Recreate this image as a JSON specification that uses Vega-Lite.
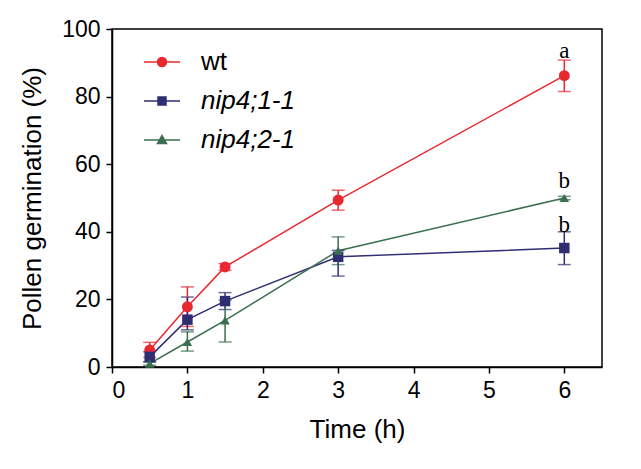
{
  "$schema": "https://vega.github.io/schema/vega-lite/v6.json",
  "width": 490,
  "height": 338,
  "autosize": "none",
  "padding": {"left": 112, "top": 29, "right": 39, "bottom": 102},
  "background": "white",
  "datasets": {
    "series": [
      {"genotype": "wt", "time": 0.5, "mean": 5.0, "lo": 2.8, "hi": 7.3},
      {"genotype": "wt", "time": 1.0, "mean": 17.8, "lo": 12.0, "hi": 23.7},
      {"genotype": "wt", "time": 1.5, "mean": 29.6, "lo": 28.6, "hi": 30.6},
      {"genotype": "wt", "time": 3.0, "mean": 49.4, "lo": 46.4, "hi": 52.3},
      {"genotype": "wt", "time": 6.0, "mean": 86.2, "lo": 81.5, "hi": 90.8},
      {"genotype": "nip4;1-1", "time": 0.5, "mean": 3.0, "lo": 1.5, "hi": 4.5},
      {"genotype": "nip4;1-1", "time": 1.0, "mean": 14.0, "lo": 11.0, "hi": 20.7},
      {"genotype": "nip4;1-1", "time": 1.5, "mean": 19.5, "lo": 17.0, "hi": 22.0},
      {"genotype": "nip4;1-1", "time": 3.0, "mean": 32.6, "lo": 26.9, "hi": 34.5},
      {"genotype": "nip4;1-1", "time": 6.0, "mean": 35.2, "lo": 30.3, "hi": 40.0},
      {"genotype": "nip4;2-1", "time": 0.5, "mean": 1.0, "lo": 0.5, "hi": 1.5},
      {"genotype": "nip4;2-1", "time": 1.0, "mean": 7.4, "lo": 4.7, "hi": 10.4},
      {"genotype": "nip4;2-1", "time": 1.5, "mean": 13.8, "lo": 7.4, "hi": 19.8},
      {"genotype": "nip4;2-1", "time": 3.0, "mean": 34.4, "lo": 30.3, "hi": 38.5},
      {"genotype": "nip4;2-1", "time": 6.0, "mean": 50.0, "lo": 49.5, "hi": 50.5}
    ],
    "letters": [
      {"time": 6, "y": 93.5, "label": "a"},
      {"time": 6, "y": 55.0, "label": "b"},
      {"time": 6, "y": 42.0, "label": "b"}
    ]
  },
  "layer": [
    {
      "data": {"name": "series"},
      "mark": {"type": "line", "strokeWidth": 1.5},
      "encoding": {
        "x": {"field": "time", "type": "quantitative"},
        "y": {"field": "mean", "type": "quantitative"},
        "color": {"field": "genotype", "type": "nominal"}
      }
    },
    {
      "data": {"name": "series"},
      "mark": {"type": "errorbar", "ticks": true, "size": 13, "thickness": 1.5},
      "encoding": {
        "x": {"field": "time", "type": "quantitative"},
        "y": {"field": "lo", "type": "quantitative"},
        "y2": {"field": "hi"},
        "color": {"field": "genotype", "type": "nominal"}
      }
    },
    {
      "data": {"name": "series"},
      "transform": [{"filter": "datum.genotype == 'wt'"}],
      "mark": {"type": "point", "shape": "circle", "filled": true, "opacity": 1, "size": 120},
      "encoding": {
        "x": {"field": "time", "type": "quantitative"},
        "y": {"field": "mean", "type": "quantitative"},
        "color": {"field": "genotype", "type": "nominal"}
      }
    },
    {
      "data": {"name": "series"},
      "transform": [{"filter": "datum.genotype == 'nip4;1-1'"}],
      "mark": {"type": "point", "shape": "square", "filled": true, "opacity": 1, "size": 110},
      "encoding": {
        "x": {"field": "time", "type": "quantitative"},
        "y": {"field": "mean", "type": "quantitative"},
        "color": {"field": "genotype", "type": "nominal"}
      }
    },
    {
      "data": {"name": "series"},
      "transform": [{"filter": "datum.genotype == 'nip4;2-1'"}],
      "mark": {"type": "point", "shape": "triangle-up", "filled": true, "opacity": 1, "size": 90},
      "encoding": {
        "x": {"field": "time", "type": "quantitative"},
        "y": {"field": "mean", "type": "quantitative"},
        "color": {"field": "genotype", "type": "nominal"}
      }
    },
    {
      "data": {"name": "letters"},
      "mark": {"type": "text", "font": "Liberation Serif", "fontSize": 23, "baseline": "middle", "align": "center"},
      "encoding": {
        "x": {"field": "time", "type": "quantitative"},
        "y": {"field": "y", "type": "quantitative"},
        "text": {"field": "label"},
        "color": {"value": "black"}
      }
    }
  ],
  "encoding": {
    "x": {
      "field": "time",
      "type": "quantitative",
      "title": "Time (h)",
      "scale": {"domain": [0, 6.5], "nice": false, "zero": false},
      "axis": {"values": [0, 1, 2, 3, 4, 5, 6]}
    },
    "y": {
      "field": "mean",
      "type": "quantitative",
      "title": "Pollen germination (%)",
      "scale": {"domain": [0, 100], "nice": false},
      "axis": {"values": [0, 20, 40, 60, 80, 100]}
    },
    "color": {
      "field": "genotype",
      "type": "nominal",
      "scale": {"domain": ["wt", "nip4;1-1", "nip4;2-1"], "range": ["#e8282f", "#2f2e73", "#3a7050"]},
      "legend": {
        "title": null,
        "orient": "none",
        "legendX": 37,
        "legendY": 20,
        "padding": 0,
        "labelFontSize": 26,
        "labelFont": "Liberation Sans",
        "labelColor": "black",
        "labelOffset": 26,
        "rowPadding": 13,
        "symbolSize": 100,
        "symbolStrokeWidth": 1.5,
        "encode": {
          "symbols": {
            "enter": {
              "shape": {"signal": "datum.value == 'wt' ? 'M-3.6,0H3.6M0.9,0A0.9,0.9,0,1,1,-0.9,0A0.9,0.9,0,1,1,0.9,0Z' : datum.value == 'nip4;1-1' ? 'M-3.6,0H3.6M-0.8,-0.8H0.8V0.8H-0.8Z' : 'M-3.6,0H3.6M0,-0.9L0.9,0.7H-0.9Z'"}
            },
            "update": {
              "shape": {"signal": "datum.value == 'wt' ? 'M-3.6,0H3.6M0.9,0A0.9,0.9,0,1,1,-0.9,0A0.9,0.9,0,1,1,0.9,0Z' : datum.value == 'nip4;1-1' ? 'M-3.6,0H3.6M-0.8,-0.8H0.8V0.8H-0.8Z' : 'M-3.6,0H3.6M0,-0.9L0.9,0.7H-0.9Z'"},
              "stroke": {"scale": "color", "field": "value"},
              "fill": {"scale": "color", "field": "value"},
              "strokeWidth": {"value": 1.5},
              "size": {"value": 100},
              "opacity": {"value": 1}
            }
          },
          "labels": {
            "update": {
              "fontStyle": {"signal": "datum.value == 'wt' ? 'normal' : 'italic'"}
            }
          }
        }
      }
    }
  },
  "config": {
    "view": {"stroke": "black", "strokeWidth": 1.5},
    "axis": {
      "grid": false,
      "labelFont": "Liberation Sans",
      "titleFont": "Liberation Sans",
      "labelFontSize": 23,
      "titleFontSize": 26,
      "titleFontWeight": "normal",
      "labelColor": "black",
      "titleColor": "black",
      "domainColor": "black",
      "domainWidth": 1.5,
      "tickColor": "black",
      "tickWidth": 1.5,
      "tickSize": 6,
      "labelPadding": 6
    },
    "axisX": {"titlePadding": 14},
    "axisY": {"titlePadding": 16}
  }
}
